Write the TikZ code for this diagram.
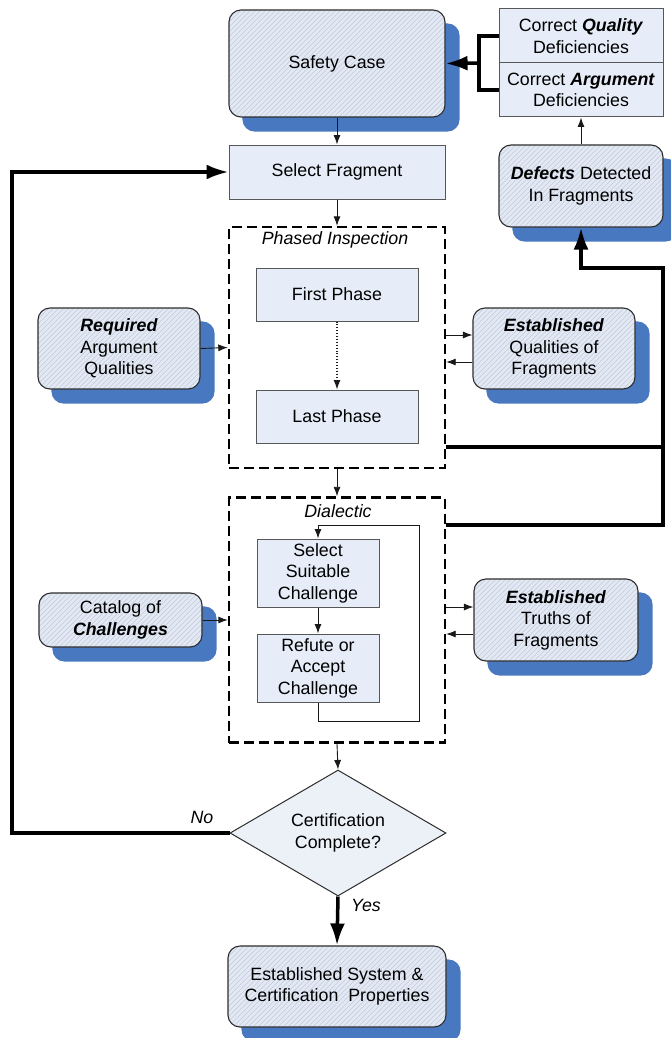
\documentclass[tikz,border=0pt]{standalone}
\usepackage{fontspec}
\setmainfont{Liberation Sans}
\usetikzlibrary{arrows.meta,shapes.geometric,calc,backgrounds}
\definecolor{shadowblue}{RGB}{72,120,192}
\definecolor{boxfill}{RGB}{226,233,245}
\definecolor{hatchc}{RGB}{196,204,217}
\definecolor{rectfill}{RGB}{230,237,248}
\definecolor{diafill}{RGB}{236,240,247}
\definecolor{edge}{RGB}{45,45,45}
\newcommand{\bi}[1]{\textbf{\textit{#1}}}
\begin{document}
\begin{tikzpicture}[x=1pt,y=-1pt,
  font=\fontsize{17.8pt}{21.5pt}\selectfont,
  rbox/.style={draw=edge, line width=1.1pt, rounded corners=12pt,
    fill=boxfill,
    path picture={\foreach \i in {-120,-115,...,225}
      \draw[hatchc, line width=0.5pt] ($(path picture bounding box.south west)+(\i,0)$) -- ++(120,-120);},
    align=center, inner sep=0pt},
  pbox/.style={draw=edge!80, line width=1pt, fill=rectfill, align=center, inner sep=0pt},
  dbox/.style={draw=black, line width=2.4pt, dash pattern=on 10pt off 5pt, inner sep=0pt},
  thinarr/.style={draw=black!90, line width=0.9pt, -{Latex[length=9.5pt,width=7pt]}},
  thickline/.style={draw=black, line width=3.5pt},
  bigarr/.style={thickline, -{Latex[length=22pt,width=15pt]}},
  lbl/.style={font=\fontsize{17.8pt}{21.5pt}\selectfont\itshape, inner sep=0pt}
]
\useasboundingbox (0,0) rectangle (670,1038);

% main column
\node[rbox, minimum width=216pt, minimum height=107pt] (safety) at (337,63.5) {Safety Case};
\node[pbox, minimum width=216pt, minimum height=54pt] (select) at (337,172) {Select Fragment};

% correction boxes
\node[pbox, minimum width=164pt, minimum height=54pt] (cq) at (581,36) {Correct \bi{Quality}\\Deficiencies};
\node[pbox, minimum width=164pt, minimum height=54pt] (ca) at (581,90) {Correct \bi{Argument}\\Deficiencies};
\node[rbox, minimum width=164pt, minimum height=82pt] (defects) at (581,186) {\bi{Defects} Detected\\In Fragments};

% phased inspection
\node[dbox, minimum width=216pt, minimum height=241pt] (phased) at (337,347.5) {};
\node[lbl] (phlbl) at (335,240) {Phased Inspection};
\node[pbox, minimum width=162pt, minimum height=53pt] (first) at (337,294.5) {First Phase};
\node[pbox, minimum width=162pt, minimum height=53pt] (last) at (337,416.5) {Last Phase};
\node[rbox, minimum width=162pt, minimum height=81pt] (required) at (119,348.5) {\bi{Required}\\Argument\\Qualities};
\node[rbox, minimum width=162pt, minimum height=81pt] (estq) at (554,348.5) {\bi{Established}\\Qualities of\\Fragments};

% dialectic
\node[dbox, minimum width=216pt, minimum height=245pt] (dial) at (337,620) {};
\node[lbl] (dllbl) at (338,511) {Dialectic};
\node[pbox, minimum width=122pt, minimum height=68pt] (sel) at (318,573) {Select\\Suitable\\Challenge};
\node[pbox, minimum width=122pt, minimum height=68pt] (ref) at (318,668) {Refute or\\Accept\\Challenge};
\node[rbox, minimum width=163pt, minimum height=54pt] (catalog) at (120.5,620) {Catalog of\\\bi{Challenges}};
\node[rbox, minimum width=164pt, minimum height=82pt] (estt) at (556,620) {\bi{Established}\\Truths of\\Fragments};

% decision
\node[diamond, draw=edge, line width=1pt, fill=diafill, aspect=1.714, minimum width=216pt, minimum height=126pt, inner sep=0pt, align=center] (dec) at (338,833) {Certification\\Complete?};
\node[rbox, minimum width=218pt, minimum height=81pt] (est) at (337,986.5) {Established System \&\\Certification\ \ Properties};

% shadows
\begin{scope}[on background layer]
  \fill[white] (0,0) rectangle (670,1038);
  \foreach \n in {safety,defects,required,estq,catalog,estt,est}
    \fill[shadowblue, rounded corners=12pt] ($(\n.north west)+(14,14)$) rectangle ($(\n.south east)+(14,14)$);
\end{scope}

% thin connectors
\draw[thinarr] (safety.south) -- (select.north);
\draw[thinarr] (select.south) -- (phased.north);
\draw[thinarr, dotted, line width=1.2pt] (first.south) -- (last.north);
\draw[thinarr] (required.east) -- (phased.west);
\draw[thinarr] ($(phased.east)+(0,-12.5)$) -- ($(estq.west)+(0,-13.5)$);
\draw[thinarr] ($(estq.west)+(0,13.5)$) -- ($(phased.east)+(0,14.5)$);
\draw[thinarr] (phased.south) -- (dial.north);
\draw[thinarr] (defects.north) -- (ca.south);
\draw[thinarr] (sel.south) -- (ref.north);
\coordinate (l1) at (318,721);
\coordinate (l2) at (419,721);
\coordinate (l3) at (419,525);
\coordinate (l4) at (318,525);
\draw[thinarr] (ref.south) -- (l1) -- (l2) -- (l3) -- (l4) -- (sel.north);
\draw[thinarr] (catalog.east) -- (dial.west);
\draw[thinarr] ($(dial.east)+(0,-13)$) -- ($(estt.west)+(0,-13)$);
\draw[thinarr] ($(estt.west)+(0,14)$) -- ($(dial.east)+(0,14)$);
\draw[thinarr] (dial.south) -- (dec.north);

% thick connectors
\coordinate (bj) at (479,63);
\draw[thickline] (cq.west) -| (bj) |- (ca.west);
\draw[bigarr] (bj) -- (safety.east);

\coordinate (r1) at (663,447);
\coordinate (r2) at (663,268);
\coordinate (r3) at (581,268);
\draw[thickline] ($(phased.east)+(0,99.5)$) -- (r1);
\draw[bigarr] (r1) -- (r2) -- (r3) -- (defects.south);
\coordinate (r4) at (663,525);
\draw[thickline] ($(dial.east)+(0,-95)$) -- (r4) -- (r1);

\coordinate (n1) at (12,833);
\coordinate (n2) at (12,172);
\draw[bigarr] (dec.west) -- (n1) -- (n2) -- (select.west);
\node[lbl] (no) at (202,817) {No};
\draw[bigarr] (dec.south) -- (est.north);
\node[lbl] (yes) at (366,905) {Yes};
\end{tikzpicture}
\end{document}
